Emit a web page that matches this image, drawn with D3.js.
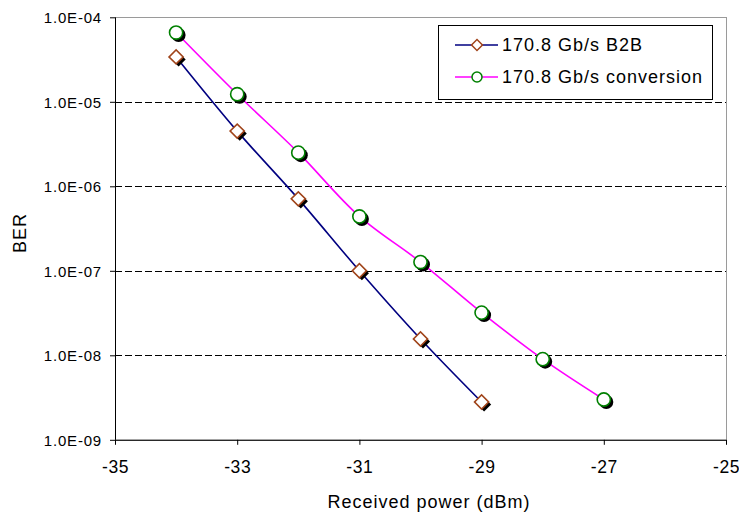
<!DOCTYPE html>
<html>
<head>
<meta charset="utf-8">
<script src="https://cdn.jsdelivr.net/npm/d3@7"></script>
<style>
  html, body { margin: 0; padding: 0; background: #fff; }
  svg text { font-family: "Liberation Sans", Arial, sans-serif; fill: #000; }
</style>
</head>
<body>
<svg id="chart" width="739" height="512"></svg>
<script>
// ---- data ----
const seriesNames = ["170.8 Gb/s B2B", "170.8 Gb/s conversion"];
const powerB2B = [-34, -33, -32, -31, -30, -29];
const berB2B = [3.4e-5, 4.5e-6, 7.1e-7, 1.0e-7, 1.56e-8, 2.8e-9];
const powerConv = [-34, -33, -32, -31, -30, -29, -28, -27];
const berConv = [6.6e-5, 1.23e-5, 2.5e-6, 4.4e-7, 1.27e-7, 3.2e-8, 9.0e-9, 3.0e-9];
const xTicks = [-35, -33, -31, -29, -27, -25];
const xTickLabels = ["-35", "-33", "-31", "-29", "-27", "-25"];
const yTicks = [1e-9, 1e-8, 1e-7, 1e-6, 1e-5, 1e-4];
const yTickLabels = ["1.0E-09", "1.0E-08", "1.0E-07", "1.0E-06", "1.0E-05", "1.0E-04"];
const xTitle = "Received power (dBm)";
const yTitle = "BER";

// ---- layout ----
const L = 115, R = 726, T = 17.3, B = 439.8;
const svg = d3.select("#chart");
const x = d3.scaleLinear().domain([-35, -25]).range([L, R]);
const y = d3.scaleLog().domain([1e-9, 1e-4]).range([B, T]);

// plot border (gray)
svg.append("rect").attr("x", L + 0.5).attr("y", Math.round(T) + 0.5).attr("width", R - L).attr("height", B - T)
  .attr("fill", "#fff").attr("stroke", "#9a9a9a").attr("stroke-width", 1);

// gridlines
const grid = svg.append("g").attr("transform", `translate(${L},0)`)
  .call(d3.axisLeft(y).tickValues(yTicks.slice(1, 5)).tickSize(-(R - L)).tickFormat(""));
grid.select(".domain").remove();
grid.selectAll(".tick").attr("transform", d => `translate(0,${Math.round(y(d)) + 0.5})`);
grid.selectAll(".tick line").attr("stroke", "#000").attr("stroke-dasharray", "7,3").attr("stroke-width", 1);

// y axis
const yAxis = svg.append("g").attr("transform", `translate(${L},0)`)
  .call(d3.axisLeft(y).tickValues(yTicks).tickSize(5).tickPadding(8)
    .tickFormat(d => yTickLabels[yTicks.indexOf(d)]));
yAxis.select(".domain").attr("stroke", "#000").attr("d", `M0.5,${T}V${B}`);
yAxis.selectAll(".tick line").attr("stroke", "#000");
yAxis.selectAll(".tick text").attr("font-size", 15).style("letter-spacing", "0.8px")
  .attr("font-family", "Liberation Sans, Arial, sans-serif").attr("dy", "0.36em");

// x axis
const xAxis = svg.append("g").attr("transform", `translate(0,${B})`)
  .call(d3.axisBottom(x).tickValues(xTicks).tickSize(5).tickPadding(16)
    .tickFormat(d => xTickLabels[xTicks.indexOf(d)]));
xAxis.select(".domain").attr("stroke", "#000").attr("d", `M${L},0.5H${R}`);
xAxis.selectAll(".tick line").attr("stroke", "#000");
xAxis.selectAll(".tick text").attr("font-size", 17.5).style("letter-spacing", "0.6px")
  .attr("font-family", "Liberation Sans, Arial, sans-serif");

// axis titles
svg.append("text").attr("x", 429).attr("y", 508).attr("text-anchor", "middle")
  .attr("font-size", 18).style("letter-spacing", "1px").text(xTitle);
svg.append("text").attr("transform", "translate(26,233) rotate(-90)").attr("text-anchor", "middle")
  .attr("font-size", 18).style("letter-spacing", "1px").text(yTitle);

// lines
const curve = d3.curveCatmullRom.alpha(0.5);
const b2b = powerB2B.map((p, i) => [p, berB2B[i]]);
const conv = powerConv.map((p, i) => [p, berConv[i]]);
const line = d3.line().x(d => x(d[0])).y(d => y(d[1])).curve(curve);
svg.append("path").datum(b2b).attr("d", line).attr("fill", "none").attr("stroke", "#000080").attr("stroke-width", 1.6);
svg.append("path").datum(conv).attr("d", line).attr("fill", "none").attr("stroke", "#ff00ff").attr("stroke-width", 1.6);

// markers
const diamond = d3.symbol().type(d3.symbolSquare).size(100)();
function drawDiamonds(g, data) {
  g.selectAll("path.sh").data(data).join("path").attr("class", "sh")
    .attr("d", diamond).attr("fill", "#000")
    .attr("transform", d => `translate(${x(d[0]) + 2.5},${y(d[1]) + 2.5}) rotate(45)`);
  g.selectAll("path.mk").data(data).join("path").attr("class", "mk")
    .attr("d", diamond).attr("fill", "#fff").attr("stroke", "#a0441a").attr("stroke-width", 1.6)
    .attr("transform", d => `translate(${x(d[0])},${y(d[1])}) rotate(45)`);
}
function drawCircles(g, data) {
  g.selectAll("circle.sh").data(data).join("circle").attr("class", "sh")
    .attr("cx", d => x(d[0]) + 2.5).attr("cy", d => y(d[1]) + 2.5).attr("r", 7).attr("fill", "#000");
  g.selectAll("circle.mk").data(data).join("circle").attr("class", "mk")
    .attr("cx", d => x(d[0])).attr("cy", d => y(d[1])).attr("r", 6.6)
    .attr("fill", "#fff").attr("stroke", "#008000").attr("stroke-width", 1.6);
}
drawDiamonds(svg.append("g"), b2b);
drawCircles(svg.append("g"), conv);

// legend
const lg = svg.append("g");
lg.append("rect").attr("x", 438.5).attr("y", 25.5).attr("width", 274).attr("height", 74)
  .attr("fill", "#fff").attr("stroke", "#000").attr("stroke-width", 1);
const rowsY = [45, 77];
const colors = ["#000080", "#ff00ff"];
rowsY.forEach((ry, i) => {
  lg.append("line").attr("x1", 455).attr("x2", 498).attr("y1", ry).attr("y2", ry)
    .attr("stroke", colors[i]).attr("stroke-width", 1.6);
  if (i === 0) {
    lg.append("path").attr("d", d3.symbol().type(d3.symbolSquare).size(60)())
      .attr("transform", `translate(477,${ry}) rotate(45)`)
      .attr("fill", "#fff").attr("stroke", "#a0441a").attr("stroke-width", 1.5);
  } else {
    lg.append("circle").attr("cx", 477).attr("cy", ry).attr("r", 5)
      .attr("fill", "#fff").attr("stroke", "#008000").attr("stroke-width", 1.5);
  }
  lg.append("text").attr("x", 502).attr("y", ry).attr("dy", "0.36em")
    .attr("font-size", 18).style("letter-spacing", "1px").text(seriesNames[i]);
});
</script>
</body>
</html>
